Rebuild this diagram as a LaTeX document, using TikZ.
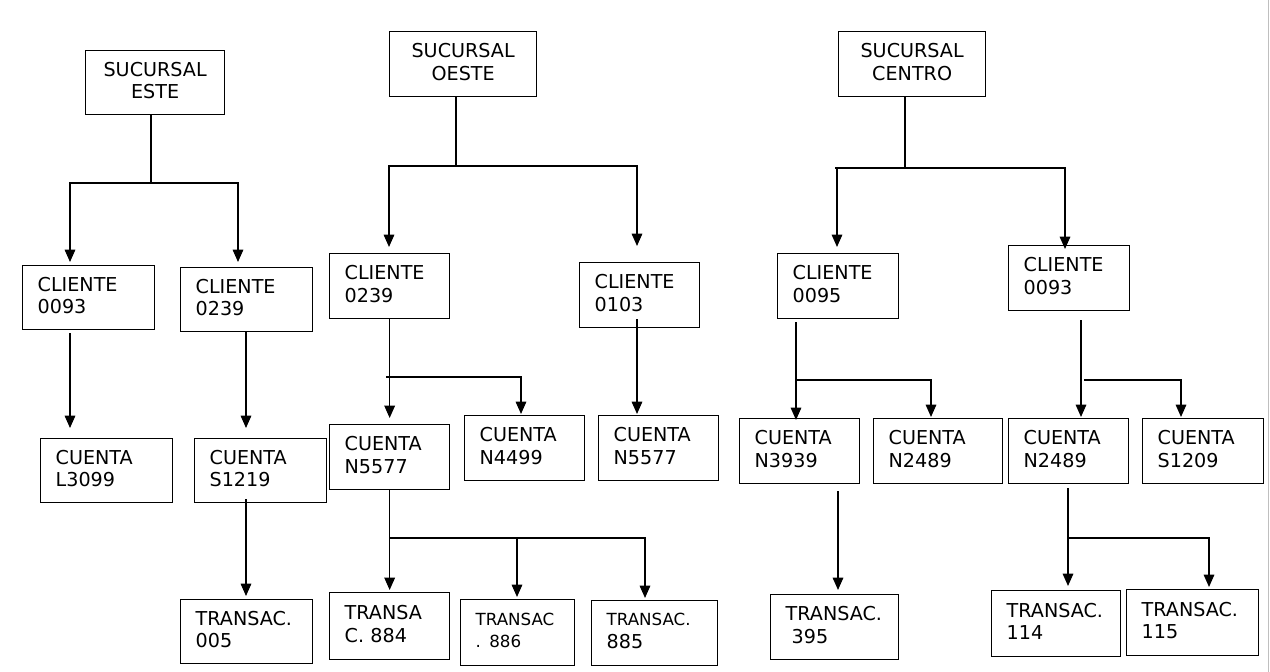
\documentclass[tikz,border=0pt]{standalone}
\usepackage{fontspec}
\setmainfont{DejaVu Sans}
\usetikzlibrary{arrows.meta,calc}

\begin{document}
\begin{tikzpicture}[
    x=0.02cm, y=-0.02cm,
    font=\fontsize{10.9}{12.8}\selectfont,
    line width=0.75pt,
    >={Triangle[length=7pt,width=6pt]},
    sucursal/.style={rectangle,draw=black,align=center,anchor=north west,inner sep=0pt,
        execute at end node={\rule[-0.1cm]{0pt}{0.1cm}}},
    caja/.style={rectangle,draw=black,align=left,anchor=north west,inner xsep=0.3cm,inner ysep=0pt,
        execute at end node={\rule[-0.1cm]{0pt}{0.1cm}}},
    chica/.style={font=\fontsize{9.5}{12.8}\selectfont}]
    \useasboundingbox (0,0) rectangle (1270,672);
    % sucursales
    \node[sucursal, minimum width=2.78cm, minimum height=1.28cm] (este) at (85,50) {SUCURSAL\\ESTE};
    \node[sucursal, minimum width=2.94cm, minimum height=1.3cm] (oeste) at (389,31) {SUCURSAL\\OESTE};
    \node[sucursal, minimum width=2.94cm, minimum height=1.3cm] (centro) at (838,31) {SUCURSAL\\CENTRO};
    % clientes
    \node[caja, text width=2.04cm, minimum height=1.28cm] (cl1) at (22,265) {CLIENTE\\0093};
    \node[caja, text width=2.04cm, minimum height=1.28cm] (cl2) at (180,267) {CLIENTE\\0239};
    \node[caja, text width=1.8cm, minimum height=1.3cm] (co1) at (329,253) {CLIENTE\\0239};
    \node[caja, text width=1.8cm, minimum height=1.3cm] (co2) at (579,262) {CLIENTE\\0103};
    \node[caja, text width=1.82cm, minimum height=1.3cm] (cc1) at (777,253) {CLIENTE\\0095};
    \node[caja, text width=1.82cm, minimum height=1.3cm] (cc2) at (1008,245) {CLIENTE\\0093};
    % cuentas
    \node[caja, text width=2.04cm, minimum height=1.28cm] (cu1) at (40,438) {CUENTA\\L3099};
    \node[caja, text width=2.04cm, minimum height=1.28cm] (cu2) at (194,438) {CUENTA\\S1219};
    \node[caja, text width=1.8cm, minimum height=1.3cm] (cu3) at (329,424) {CUENTA\\N5577};
    \node[caja, text width=1.8cm, minimum height=1.3cm] (cu4) at (464,415) {CUENTA\\N4499};
    \node[caja, text width=1.8cm, minimum height=1.3cm] (cu5) at (598,415) {CUENTA\\N5577};
    \node[caja, text width=1.8cm, minimum height=1.3cm] (cu6) at (739,418) {CUENTA\\N3939};
    \node[caja, text width=1.98cm, minimum height=1.3cm] (cu7) at (873,418) {CUENTA\\N2489};
    \node[caja, text width=1.8cm, minimum height=1.3cm] (cu8) at (1008,418) {CUENTA\\N2489};
    \node[caja, text width=1.82cm, minimum height=1.3cm] (cu9) at (1142,418) {CUENTA\\S1209};
    % transacciones
    \node[caja, text width=2.04cm, minimum height=1.28cm] (tr1) at (180,599) {TRANSAC.\\005};
    \node[caja, text width=1.8cm, minimum height=1.34cm] (tr2) at (329,592) {TRANSA\\C. 884};
    \node[caja, chica, text width=1.68cm, minimum height=1.32cm] (tr3) at (460,599) {TRANSAC\\. 886};
    \node[caja, text width=1.92cm, minimum height=1.3cm] (tr4) at (591,600) {{\fontsize{9.5}{12.8}\selectfont TRANSAC.}\\885};
    \node[caja, text width=1.96cm, minimum height=1.3cm] (tr5) at (770,594) {TRANSAC.\\\hspace*{0.12cm}395};
    \node[caja, text width=1.98cm, minimum height=1.32cm] (tr6) at (991,590) {TRANSAC.\\114};
    \node[caja, text width=2.04cm, minimum height=1.32cm] (tr7) at (1126,589) {TRANSAC.\\115};
    % uniones
    \coordinate (ej) at (151,183);
    \coordinate (oj) at (456,166);
    \coordinate (oj2) at (386,377);
    \coordinate (oj3) at (389,538);
    \coordinate (cj) at (905,168);
    \coordinate (cj2) at (796,380);
    \coordinate (cj3) at (1084,380);
    \coordinate (cj4) at (1068,538);
    % este
    \draw (este.south -| ej) -- (ej);
    \draw[->] (ej) -| ($(cl1.north west)+(48,-3)$);
    \draw[->] (ej) -| ($(cl2.north west)+(58,-5)$);
    \draw[->] ($(cl1.south west)+(48,3)$) -- ($(cu1.north west)+(30,-10)$);
    \draw[->] ($(cl2.south west)+(66,0)$) -- ($(cu2.north west)+(52,-10)$);
    \draw[->] ($(cu2.south west)+(52,-4)$) -- ($(tr1.north west)+(66,-3)$);
    % oeste
    \draw (oeste.south -| oj) -- (oj);
    \draw[->] (oj) -| ($(co1.north west)+(60,-6)$);
    \draw[->] (oj) -| ($(co2.north west)+(58,-16)$);
    \draw[->] (co1.south) -- ($(cu3.north)+(0,-6)$);
    \draw[->] (oj2) -| ($(cu4.north west)+(57,-1)$);
    \draw[->] ($(co2.south west)+(58,-9)$) -- ($(cu5.north west)+(39,-1)$);
    \draw[->] (cu3.south) -- ($(tr2.north)+(0,-2)$);
    \draw[->] (oj3) -| ($(tr3.north west)+(57,-2)$);
    \draw[->] (oj3) -| ($(tr4.north west)+(54,-2)$);
    % centro
    \draw (centro.south -| cj) -- (cj);
    \draw (cj) -- ($(cj)+(-70,0)$);
    \draw[->] (cj) -| ($(cc1.north west)+(60,-6)$);
    \draw[->] (cj) -| ($(cc2.north west)+(57,4)$);
    \draw[->] ($(cc1.south west)+(19,3)$) -- ($(cu6.north west)+(57,2)$);
    \draw[->] (cj2) -| ($(cu7.north west)+(58,-1)$);
    \draw[->] ($(cc2.south west)+(73,9)$) -- ($(cu8.north west)+(73,-1)$);
    \draw[->] (cj3) -| ($(cu9.north west)+(39,-1)$);
    \draw[->] ($(cu6.south west)+(99,7)$) -- ($(tr5.north west)+(68,-4)$);
    \draw[->] ($(cu8.south west)+(60,4)$) -- ($(tr6.north west)+(77,-4)$);
    \draw[->] (cj4) -| ($(tr7.north west)+(83,-2)$);
    % borde
    \draw[black!25, line width=0.5pt] (1268.5,0) -- (1268.5,672);
\end{tikzpicture}
\end{document}
